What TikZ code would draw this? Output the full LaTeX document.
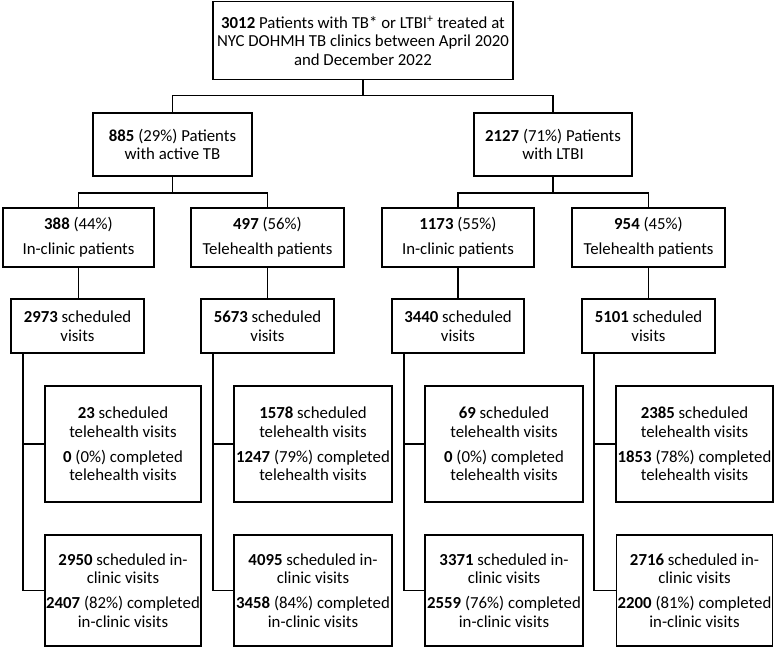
\documentclass[tikz,border=0pt]{standalone}
\usepackage{fontspec}
\setmainfont{Carlito}
\begin{document}
\begin{tikzpicture}[x=1bp,y=-1bp,
  box/.style={draw, line width=1.8bp, inner sep=0pt, align=center, font=\fontsize{16.8bp}{18.5bp}\selectfont},
  conn/.style={line width=1.8bp}]
\useasboundingbox (0,0) rectangle (774,647);
\node[box, minimum width=300bp, minimum height=78bp] (top) at (363,40.5) {\textbf{3012} Patients with TB* or LTBI\textsuperscript{+} treated at\\NYC DOHMH TB clinics between April 2020\\and December 2022};
% level 1
\node[box, minimum width=159bp, minimum height=63bp] (L1a) at (172.5,144.5) {\textbf{885} (29\%) Patients\\with active TB};
\node[box, minimum width=158bp, minimum height=63bp] (L1b) at (553,144.5) {\textbf{2127} (71\%) Patients\\with LTBI};
% level 2
\node[box, minimum width=151bp, minimum height=59bp] (L2a) at (78.5,237.5) {\textbf{388} (44\%)\\[6.5bp]In-clinic patients};
\node[box, minimum width=153bp, minimum height=59bp] (L2b) at (267.5,237.5) {\textbf{497} (56\%)\\[6.5bp]Telehealth patients};
\node[box, minimum width=152bp, minimum height=59bp] (L2c) at (458,237.5) {\textbf{1173} (55\%)\\[6.5bp]In-clinic patients};
\node[box, minimum width=153bp, minimum height=59bp] (L2d) at (648.5,237.5) {\textbf{954} (45\%)\\[6.5bp]Telehealth patients};
% level 3
\node[box, minimum width=133bp, minimum height=54bp] (L3a) at (77.5,326) {\textbf{2973} scheduled\\visits};
\node[box, minimum width=133bp, minimum height=54bp] (L3b) at (267.5,326) {\textbf{5673} scheduled\\visits};
\node[box, minimum width=132bp, minimum height=54bp] (L3c) at (458,326) {\textbf{3440} scheduled\\visits};
\node[box, minimum width=133bp, minimum height=54bp] (L3d) at (648.5,326) {\textbf{5101} scheduled\\visits};
% upper leaves
\node[box, minimum width=156bp, minimum height=116bp] (Ua) at (123,444) {\textbf{23} scheduled\\telehealth visits\\[6.5bp]\textbf{0} (0\%) completed\\telehealth visits};
\node[box, minimum width=158bp, minimum height=116bp] (Ub) at (313,444) {\textbf{1578} scheduled\\telehealth visits\\[6.5bp]\textbf{1247} (79\%) completed\\telehealth visits};
\node[box, minimum width=158bp, minimum height=116bp] (Uc) at (504,444) {\textbf{69} scheduled\\telehealth visits\\[6.5bp]\textbf{0} (0\%) completed\\telehealth visits};
\node[box, minimum width=157bp, minimum height=116bp] (Ud) at (694.5,444) {\textbf{2385} scheduled\\telehealth visits\\[6.5bp]\textbf{1853} (78\%) completed\\telehealth visits};
% lower leaves
\node[box, minimum width=156bp, minimum height=111bp] (La) at (123,590.5) {\textbf{2950} scheduled in-\\clinic visits\\[6.5bp]\textbf{2407} (82\%) completed\\in-clinic visits};
\node[box, minimum width=158bp, minimum height=111bp] (Lb) at (313,590.5) {\textbf{4095} scheduled in-\\clinic visits\\[6.5bp]\textbf{3458} (84\%) completed\\in-clinic visits};
\node[box, minimum width=158bp, minimum height=111bp] (Lc) at (504,590.5) {\textbf{3371} scheduled in-\\clinic visits\\[6.5bp]\textbf{2559} (76\%) completed\\in-clinic visits};
\node[box, minimum width=156bp, minimum height=111bp] (Ld) at (694.5,590.5) {\textbf{2716} scheduled in-\\clinic visits\\[6.5bp]\textbf{2200} (81\%) completed\\in-clinic visits};
% connectors
\draw[conn] (top.south) -- (top.south |- 0,95.5) coordinate (j0);
\draw[conn] (L1a.north) |- (j0) -| (L1b.north);
\draw[conn] (L1a.south) -- (L1a.south |- 0,193) coordinate (j1);
\draw[conn] (L2a.north) |- (j1) -| (L2b.north);
\draw[conn] (L1b.south) -- (L1b.south |- 0,193) coordinate (j2);
\draw[conn] (L2c.north) |- (j2) -| (L2d.north);
\draw[conn] (L2a.south) -- (L2a.south |- L3a.north);
\draw[conn] (L2b.south) -- (L2b.south |- L3b.north);
\draw[conn] (L2c.south) -- (L2c.south |- L3c.north);
\draw[conn] (L2d.south) -- (L2d.south |- L3d.north);
\foreach \s/\u/\l in {L3a/Ua/La, L3b/Ub/Lb, L3c/Uc/Lc, L3d/Ud/Ld}{
  \draw[conn] ([xshift=13bp]\s.south west) |- (\u.west);
  \draw[conn] ([xshift=13bp]\s.south west) |- (\l.west);
}
\end{tikzpicture}
\end{document}
